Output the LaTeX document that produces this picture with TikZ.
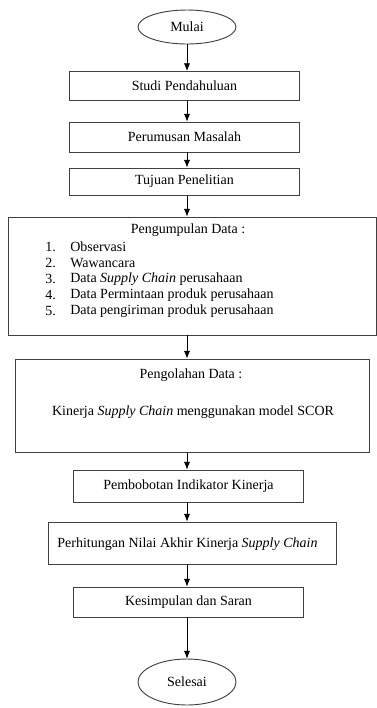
\documentclass[tikz,border=0pt]{standalone}
\usepackage{fontspec}
\setmainfont{Liberation Serif}
\usetikzlibrary{shapes.geometric,arrows.meta}

\begin{document}
\begin{tikzpicture}[x=0.65pt,y=-0.65pt,
  kotak/.style={draw=black!75,line width=0.6pt,rectangle,inner sep=0pt,font=\fontsize{9.1}{11}\selectfont},
  oval/.style={draw=black!75,line width=0.6pt,ellipse,inner sep=0pt,font=\fontsize{9.1}{11}\selectfont},
  teks/.style={inner sep=0pt,font=\fontsize{9.1}{11}\selectfont},
  panah/.style={-{Latex[length=5pt,width=4pt]},line width=0.5pt}]

\useasboundingbox (0,0) rectangle (377,708);

% Start
\node[oval,minimum width=63.7pt,minimum height=22.1pt] (mulai) at (187,27) {Mulai};

% First steps
\node[kotak,minimum width=148.9pt,minimum height=18.9pt] (studi) at (184.5,86) {Studi Pendahuluan};
\node[kotak,minimum width=148.9pt,minimum height=19.5pt] (rumusan) at (184.5,137) {Perumusan Masalah};
\node[kotak,minimum width=148.9pt,minimum height=17.6pt] (tujuan) at (184.5,181.5) {Tujuan Penelitian};

% Data collection
\node[kotak,minimum width=238.6pt,minimum height=76.7pt] (kumpul) at (192.5,276) {};
\node[teks] (kumpuljudul) at (188,230) {Pengumpulan Data :};
\node[teks,anchor=west] (n1) at (45,247) {1.};
\node[teks,anchor=west] (n2) at (45,263) {2.};
\node[teks,anchor=west] (n3) at (45,279) {3.};
\node[teks,anchor=west] (n4) at (45,295) {4.};
\node[teks,anchor=west] (n5) at (45,311) {5.};
\node[teks,anchor=west] (i1) at (70,247) {Observasi};
\node[teks,anchor=west] (i2) at (70,263) {Wawancara};
\node[teks,anchor=west] (i3) at (70,279) {Data \textit{Supply Chain} perusahaan};
\node[teks,anchor=west] (i4) at (70,295) {Data Permintaan produk perusahaan};
\node[teks,anchor=west] (i5) at (70,311) {Data pengiriman produk perusahaan};

% Data processing
\node[kotak,minimum width=230.1pt,minimum height=60.5pt] (olah) at (192,405.5) {};
\node[teks] (olahjudul) at (191,375) {Pengolahan Data :};
\node[teks] (olahisi) at (193,412) {Kinerja \textit{Supply Chain} menggunakan model SCOR};

% Last steps
\node[kotak,minimum width=148.9pt,minimum height=20.8pt] (bobot) at (188.5,486) {Pembobotan Indikator Kinerja};
\node[kotak,minimum width=186.6pt,minimum height=27.3pt] (hitung) at (192.5,543) {};
\node[teks] (hitungisi) at (187.5,544) {Perhitungan Nilai Akhir Kinerja \textit{Supply Chain}};
\node[kotak,minimum width=148.9pt,minimum height=19.5pt] (simpul) at (188.5,602) {Kesimpulan dan Saran};

% End
\node[oval,minimum width=63.7pt,minimum height=29.9pt] (selesai) at (187,682) {Selesai};

% Arrows
\draw[panah] (mulai.south) -- (studi.north -| mulai);
\draw[panah] (studi.south -| mulai) -- (rumusan.north -| mulai);
\draw[panah] (rumusan.south -| mulai) -- (tujuan.north -| mulai);
\draw[panah] (tujuan.south -| mulai) -- (kumpul.north -| mulai);
\draw[panah] (kumpul.south -| mulai) -- (olah.north -| mulai);
\draw[panah] (olah.south -| mulai) -- (bobot.north -| mulai);
\draw[panah] (bobot.south -| mulai) -- (hitung.north -| mulai);
\draw[panah] (hitung.south -| mulai) -- (simpul.north -| mulai);
\draw[panah] (simpul.south -| mulai) -- (selesai.north);

\end{tikzpicture}
\end{document}
